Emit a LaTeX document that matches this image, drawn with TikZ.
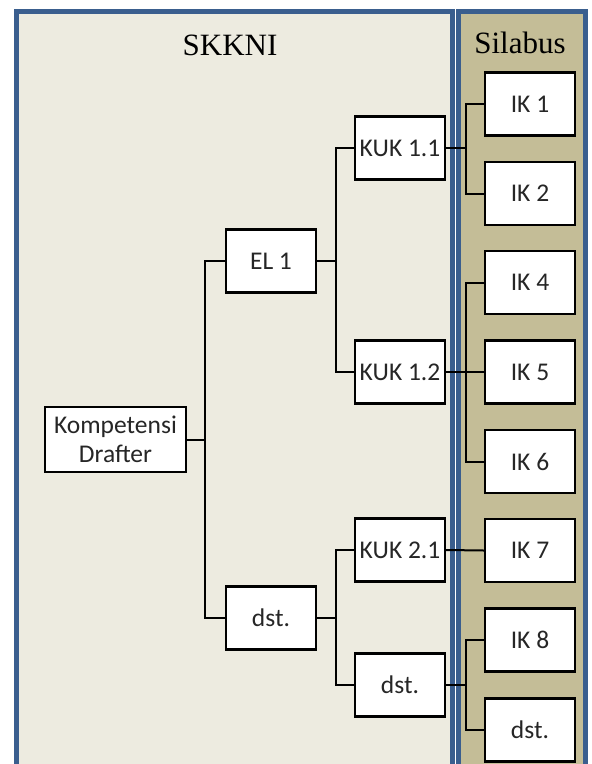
\documentclass[tikz,border=0pt]{standalone}
\usepackage{fontspec}
\setmainfont{Liberation Serif}
\newfontfamily\boxfont{Carlito}
\definecolor{panelblue}{HTML}{3A5E8E}
\definecolor{leftfill}{HTML}{EDEBE0}
\definecolor{rightfill}{HTML}{C4BD97}
\begin{document}
\begin{tikzpicture}[x=1pt,y=-1pt,
  bx/.style={draw=black,line width=2.4pt,fill=white,minimum width=90pt,minimum height=63pt,inner sep=0pt,font=\boxfont\fontsize{25.5}{29}\selectfont,text=black!85},
  ln/.style={line width=2pt,black}]
\useasboundingbox (0,0) rectangle (592,764);
\fill[white] (0,0) rectangle (592,764);
% panels
\fill[leftfill] (16.5,11.5) rectangle (452.5,775);
\fill[rightfill] (458.5,11.5) rectangle (585.5,775);
\draw[panelblue,line width=5pt] (16.5,775) -- (16.5,11.5) -- (452.5,11.5) -- (452.5,775);
\draw[panelblue,line width=5pt] (458.5,775) -- (458.5,11.5) -- (585.5,11.5) -- (585.5,775);
\node[font=\fontsize{31}{35}\selectfont] (t1) at (230,45) {SKKNI};
\node[font=\fontsize{31}{35}\selectfont] (t2) at (520,43) {Silabus};
% nodes
\node[bx,minimum width=141pt,minimum height=65pt,align=center] (k) at (115.5,439.5) {Kompetensi\\Drafter};
\node[bx] (el1) at (271,261) {EL 1};
\node[bx] (el2) at (271,618) {dst.};
\node[bx] (k11) at (400,148) {KUK 1.1};
\node[bx] (k12) at (400,372) {KUK 1.2};
\node[bx] (k21) at (400,550) {KUK 2.1};
\node[bx] (k22) at (400,685) {dst.};
\node[bx] (ik1) at (530,104) {IK 1};
\node[bx] (ik2) at (530,193.5) {IK 2};
\node[bx] (ik4) at (530,282.5) {IK 4};
\node[bx] (ik5) at (530,372) {IK 5};
\node[bx] (ik6) at (530,461.5) {IK 6};
\node[bx] (ik7) at (530,550.5) {IK 7};
\node[bx] (ik8) at (530,640) {IK 8};
\node[bx] (ik9) at (530,730) {dst.};
% connectors
\coordinate (j0) at (205,439.5);
\draw[ln] (k.east) -- (j0);
\draw[ln] (el1.west) -| (j0) |- (el2.west);
\coordinate (j1) at (336,261);
\draw[ln] (el1.east) -- (j1);
\draw[ln] (k11.west) -| (j1) |- (k12.west);
\coordinate (j2) at (336,618);
\draw[ln] (el2.east) -- (j2);
\draw[ln] (k21.west) -| (j2) |- (k22.west);
\coordinate (j3) at (466,148);
\draw[ln] (k11.east) -- (j3);
\draw[ln] (ik1.west) -| (j3) |- (ik2.west);
\coordinate (j4) at (466,372);
\draw[ln] (k12.east) -- (ik5.west);
\draw[ln] (ik4.west) -| (j4) |- (ik6.west);
\draw[ln] (k21.east) -- (ik7.west);
\coordinate (j5) at (466,685);
\draw[ln] (k22.east) -- (j5);
\draw[ln] (ik8.west) -| (j5) |- (ik9.west);
\end{tikzpicture}
\end{document}
